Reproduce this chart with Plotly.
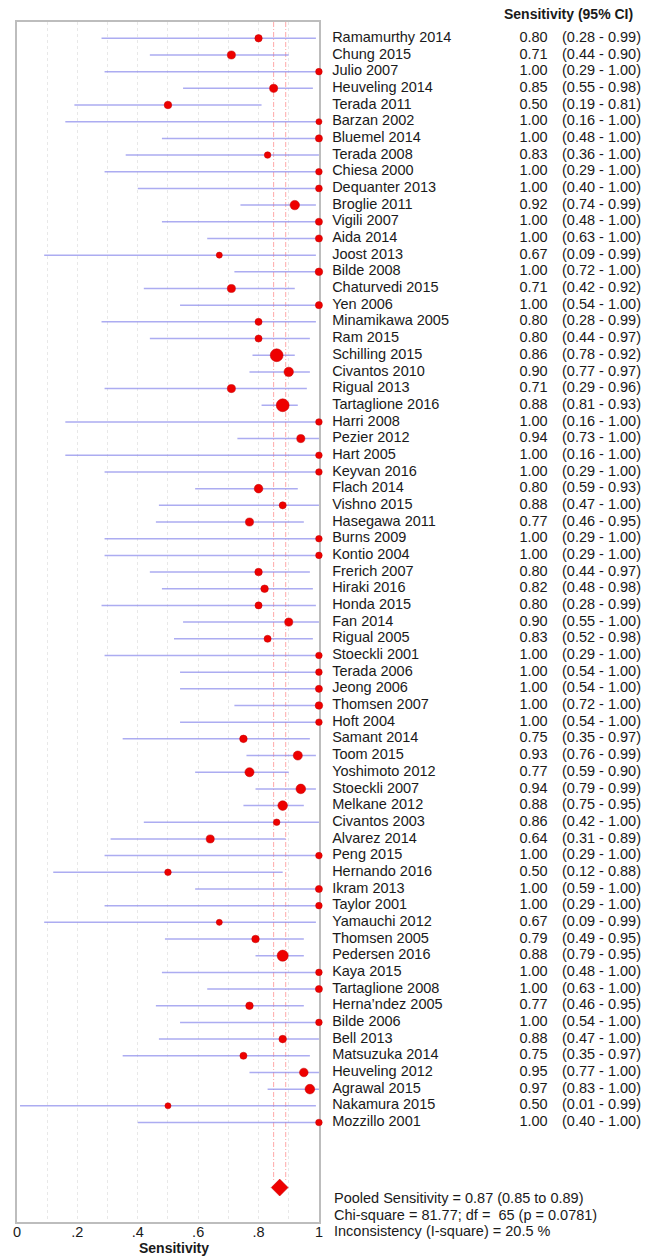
import plotly.graph_objects as go

# ---------------- data ----------------
studies = ["Ramamurthy 2014", "Chung 2015", "Julio 2007", "Heuveling 2014", "Terada 2011",
           "Barzan 2002", "Bluemel 2014", "Terada 2008", "Chiesa 2000", "Dequanter 2013",
           "Broglie 2011", "Vigili 2007", "Aida 2014", "Joost 2013", "Bilde 2008",
           "Chaturvedi 2015", "Yen 2006", "Minamikawa 2005", "Ram 2015", "Schilling 2015",
           "Civantos 2010", "Rigual 2013", "Tartaglione 2016", "Harri 2008", "Pezier 2012",
           "Hart 2005", "Keyvan 2016", "Flach 2014", "Vishno 2015", "Hasegawa 2011",
           "Burns 2009", "Kontio 2004", "Frerich 2007", "Hiraki 2016", "Honda 2015",
           "Fan 2014", "Rigual 2005", "Stoeckli 2001", "Terada 2006", "Jeong 2006",
           "Thomsen 2007", "Hoft 2004", "Samant 2014", "Toom 2015", "Yoshimoto 2012",
           "Stoeckli 2007", "Melkane 2012", "Civantos 2003", "Alvarez 2014", "Peng 2015",
           "Hernando 2016", "Ikram 2013", "Taylor 2001", "Yamauchi 2012", "Thomsen 2005",
           "Pedersen 2016", "Kaya 2015", "Tartaglione 2008", "Herna\u2019ndez 2005", "Bilde 2006",
           "Bell 2013", "Matsuzuka 2014", "Heuveling 2012", "Agrawal 2015", "Nakamura 2015",
           "Mozzillo 2001"]

sens = [0.80, 0.71, 1.00, 0.85, 0.50, 1.00, 1.00, 0.83, 1.00, 1.00,
        0.92, 1.00, 1.00, 0.67, 1.00, 0.71, 1.00, 0.80, 0.80, 0.86,
        0.90, 0.71, 0.88, 1.00, 0.94, 1.00, 1.00, 0.80, 0.88, 0.77,
        1.00, 1.00, 0.80, 0.82, 0.80, 0.90, 0.83, 1.00, 1.00, 1.00,
        1.00, 1.00, 0.75, 0.93, 0.77, 0.94, 0.88, 0.86, 0.64, 1.00,
        0.50, 1.00, 1.00, 0.67, 0.79, 0.88, 1.00, 1.00, 0.77, 1.00,
        0.88, 0.75, 0.95, 0.97, 0.50, 1.00]

ci_low = [0.28, 0.44, 0.29, 0.55, 0.19, 0.16, 0.48, 0.36, 0.29, 0.40,
          0.74, 0.48, 0.63, 0.09, 0.72, 0.42, 0.54, 0.28, 0.44, 0.78,
          0.77, 0.29, 0.81, 0.16, 0.73, 0.16, 0.29, 0.59, 0.47, 0.46,
          0.29, 0.29, 0.44, 0.48, 0.28, 0.55, 0.52, 0.29, 0.54, 0.54,
          0.72, 0.54, 0.35, 0.76, 0.59, 0.79, 0.75, 0.42, 0.31, 0.29,
          0.12, 0.59, 0.29, 0.09, 0.49, 0.79, 0.48, 0.63, 0.46, 0.54,
          0.47, 0.35, 0.77, 0.83, 0.01, 0.40]

ci_high = [0.99, 0.90, 1.00, 0.98, 0.81, 1.00, 1.00, 1.00, 1.00, 1.00,
           0.99, 1.00, 1.00, 0.99, 1.00, 0.92, 1.00, 0.99, 0.97, 0.92,
           0.97, 0.96, 0.93, 1.00, 1.00, 1.00, 1.00, 0.93, 1.00, 0.95,
           1.00, 1.00, 0.97, 0.98, 0.99, 1.00, 0.98, 1.00, 1.00, 1.00,
           1.00, 1.00, 0.97, 0.99, 0.90, 0.99, 0.95, 1.00, 0.89, 1.00,
           0.88, 1.00, 1.00, 0.99, 0.95, 0.95, 1.00, 1.00, 0.95, 1.00,
           1.00, 0.97, 1.00, 1.00, 0.99, 1.00]

# relative study weight (arbitrary units)
weight = [1.12, 1.23, 1.00, 1.23, 1.15, 0.92, 1.08, 1.00, 1.00, 1.03,
          1.43, 1.08, 1.08, 0.92, 1.15, 1.23, 1.08, 1.08, 1.08, 1.95,
          1.43, 1.23, 1.95, 1.00, 1.23, 1.00, 1.00, 1.31, 1.08, 1.23,
          1.00, 1.00, 1.15, 1.15, 1.08, 1.23, 1.08, 1.00, 1.00, 1.08,
          1.15, 1.00, 1.15, 1.38, 1.38, 1.46, 1.46, 1.00, 1.23, 1.00,
          1.00, 1.08, 1.00, 0.92, 1.15, 1.69, 1.00, 1.08, 1.15, 1.00,
          1.15, 1.08, 1.31, 1.46, 0.92, 1.00]

pooled, pooled_lo, pooled_hi = 0.87, 0.85, 0.89
chi_square, df, p_value, i_square = 81.77, 65, 0.0781, 20.5

x_ticks = [0, 0.1, 0.2, 0.3, 0.4, 0.5, 0.6, 0.7, 0.8, 0.9, 1.0]
x_ticklabels = ["0", "", ".2", "", ".4", "", ".6", "", ".8", "", "1"]

# ---------------- style ----------------
W, H = 647, 1256
L, T, B = 16.7, 22, 34
PLOT_RIGHT = 320.7
ROW0, ROWSTEP = 38.3, 16.68
FONT = "Arial, Liberation Sans, sans-serif"
FS = 14.5
TXT = "#1a1a1a"
RED = "#ee0000"
DOT_SCALE = 6.6

n = len(studies)
rows = list(range(n))
pooled_row = n + 2.9


def py(px):
    return (px - ROW0) / ROWSTEP


fig = go.Figure()

# CI lines
cx, cy = [], []
for i in rows:
    cx += [ci_low[i], ci_high[i], None]
    cy += [i, i, None]
fig.add_trace(go.Scatter(x=cx, y=cy, mode="lines",
                         line=dict(color="rgba(140,140,235,0.72)", width=1.5),
                         hoverinfo="skip", showlegend=False, cliponaxis=False))

# pooled CI dashed lines
for v in (pooled_lo, pooled_hi):
    fig.add_shape(type="line", xref="x", yref="y", x0=v, x1=v,
                  y0=py(T), y1=pooled_row - 0.35, layer="below",
                  line=dict(color="rgba(255,110,110,0.75)", width=0.8,
                            dash="5px,2px,1px,2px"))

# point estimates
fig.add_trace(go.Scatter(x=sens, y=rows, mode="markers",
                         marker=dict(size=[w * DOT_SCALE for w in weight], color=RED,
                                     opacity=1,
                                     line=dict(color="#c00000", width=0.5)),
                         showlegend=False, cliponaxis=False))

# pooled diamond
fig.add_trace(go.Scatter(x=[pooled], y=[pooled_row], mode="markers",
                         marker=dict(symbol="diamond", size=13, color=RED, opacity=1,
                                     line=dict(color="#c00000", width=0.5)),
                         showlegend=False, cliponaxis=False))

# right-hand text columns (on helper axis x2 measured in pixels)
fig.add_trace(go.Scatter(x=[334] * n, y=rows, mode="text", text=studies,
                         textposition="middle right", xaxis="x2",
                         textfont=dict(family=FONT, size=FS, color=TXT),
                         showlegend=False, hoverinfo="skip", cliponaxis=False))
fig.add_trace(go.Scatter(x=[551] * n, y=rows, mode="text",
                         text=[f"{v:.2f}" for v in sens],
                         textposition="middle left", xaxis="x2",
                         textfont=dict(family=FONT, size=FS, color=TXT),
                         showlegend=False, hoverinfo="skip", cliponaxis=False))
fig.add_trace(go.Scatter(x=[645] * n, y=rows, mode="text",
                         text=[f"({a:.2f} - {b:.2f})" for a, b in zip(ci_low, ci_high)],
                         textposition="middle left", xaxis="x2",
                         textfont=dict(family=FONT, size=FS, color=TXT),
                         showlegend=False, hoverinfo="skip", cliponaxis=False))

plot_h = H - T - B


def paper_y(px):
    return (H - B - px) / plot_h


fig.add_annotation(text="<b>Sensitivity (95% CI)</b>", xref="x2", x=639, xanchor="right",
                   yref="paper", y=paper_y(14), yanchor="middle", showarrow=False,
                   font=dict(family=FONT, size=14, color=TXT))

footer = [
    f"Pooled Sensitivity = {pooled:.2f} ({pooled_lo:.2f} to {pooled_hi:.2f})",
    f"Chi-square = {chi_square:.2f}; df =  {df} (p = {p_value:.4f})",
    f"Inconsistency (I-square) = {i_square:.1f} %",
]
for k, line in enumerate(footer):
    fig.add_annotation(text=line, xref="x2", x=334, xanchor="left",
                       yref="paper", y=paper_y(1198 + k * 16.6), yanchor="middle",
                       showarrow=False, font=dict(family=FONT, size=FS, color=TXT))

fig.add_annotation(text="<b>Sensitivity</b>", xref="x", x=0.52, xanchor="center",
                   yref="paper", y=paper_y(1248), yanchor="middle", showarrow=False,
                   font=dict(family=FONT, size=14, color=TXT))

dom_r = (PLOT_RIGHT - L) / (W - L)
fig.update_layout(
    width=W, height=H,
    margin=dict(l=L, r=0, t=T, b=B),
    paper_bgcolor="white", plot_bgcolor="rgba(0,0,0,0)",
    xaxis=dict(domain=[0, dom_r], range=[0, 1], tickvals=x_ticks, ticktext=x_ticklabels,
               showgrid=True, gridcolor="#e8e8e8", griddash="dot", gridwidth=1,
               zeroline=False, showline=True, mirror=True, linecolor="#bdbdbd",
               linewidth=1.5, ticks="", ticklabelstandoff=-4, layer="below traces",
               tickfont=dict(family=FONT, size=FS, color=TXT)),
    xaxis2=dict(domain=[dom_r, 1], range=[PLOT_RIGHT, W], anchor="y", visible=False,
                showgrid=False, zeroline=False),
    yaxis=dict(range=[py(H - B), py(T)], visible=True, showticklabels=False,
               showgrid=False, zeroline=False, showline=True, mirror=True,
               linecolor="#bdbdbd", linewidth=1.5, ticks="", layer="below traces"),
    showlegend=False,
)

fig.write_html("out.html", config={"displayModeBar": False},
               post_script="document.body.style.margin='0px';document.body.style.overflow='hidden';")
